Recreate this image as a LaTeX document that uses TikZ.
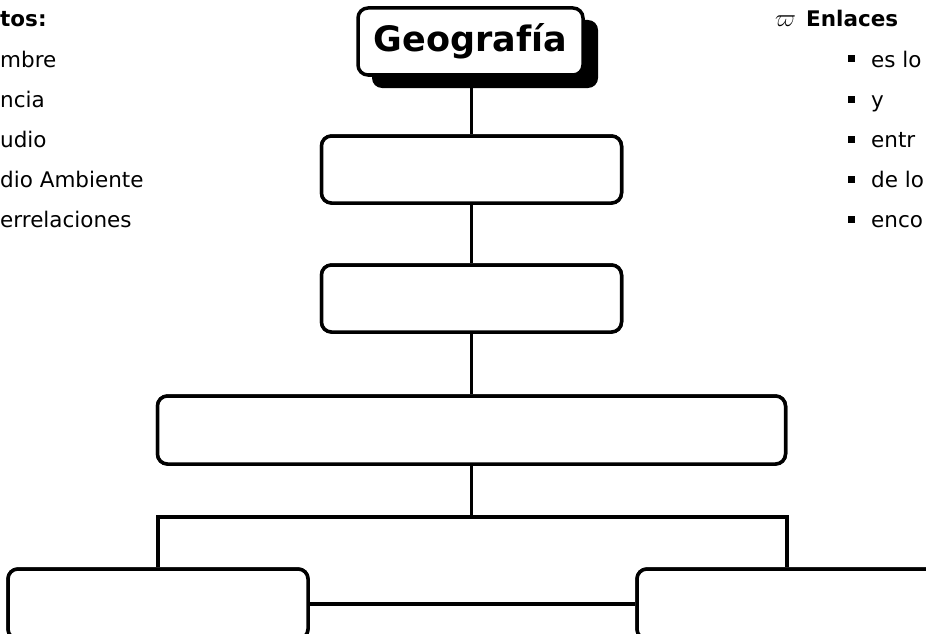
\documentclass[tikz,border=0pt]{standalone}
\usepackage{fontspec}
\setmainfont{DejaVu Sans}
\begin{document}
\begin{tikzpicture}[x=1pt,y=-1pt,
  box/.style={draw=black,line width=3.5pt,rounded corners=10pt,fill=white,inner sep=0pt},
  conn/.style={draw=black,line width=3.5pt},
  lbl/.style={anchor=base west,inner sep=0pt,font=\fontsize{21.5}{25}\selectfont},
  blt/.style={fill=black,inner sep=0pt,minimum size=7pt}]
\useasboundingbox (0,0) rectangle (926,634);
\clip (0,0) rectangle (926,634);
% connectors behind boxes
\coordinate (gtop) at (471.5,41);
\node[box,minimum width=300pt,minimum height=67pt] (b2) at (471.5,169.5) {};
\node[box,minimum width=300pt,minimum height=67pt] (b3) at (471.5,298.5) {};
\node[box,minimum width=628pt,minimum height=68pt] (b4) at (471.5,430) {};
\node[box,minimum width=300pt,minimum height=70pt] (bl) at (158,604) {};
\node[box,minimum width=300pt,minimum height=70pt] (br) at (787,604) {};
\coordinate (br1) at (471.5,517);
\draw[conn] (gtop) -- (b2.north);
\draw[conn] (b2.south) -- (b3.north);
\draw[conn] (b3.south) -- (b4.north);
\draw[conn] (b4.south) -- (br1);
\draw[conn] (bl.north) |- (br1) -| (br.north);
\draw[conn] (bl.east) -- (br.west);
% redraw boxes over connectors
\node[box,minimum width=300pt,minimum height=67pt] at (471.5,169.5) {};
\node[box,minimum width=300pt,minimum height=67pt] at (471.5,298.5) {};
\node[box,minimum width=628pt,minimum height=68pt] at (471.5,430) {};
\node[box,minimum width=300pt,minimum height=70pt] at (158,604) {};
\node[box,minimum width=300pt,minimum height=70pt] at (787,604) {};
% Geografia with shadow
\fill[black,rounded corners=10pt] (372,20) rectangle (598,88);
\node[box,minimum width=225pt,minimum height=67pt,font=\fontsize{35}{40}\selectfont\bfseries] (geo) at (470.5,41.5) {Geografía};
% left list
\node[lbl,font=\fontsize{21.5}{25}\selectfont\bfseries] (c0) at (0,27) {tos:};
\node[lbl] (c1) at (0,67) {mbre};
\node[lbl] (c2) at (0,107) {ncia};
\node[lbl] (c3) at (0,147) {udio};
\node[lbl] (c4) at (0,187) {dio Ambiente};
\node[lbl] (c5) at (0,227) {errelaciones};
% right list
\node[lbl,font=\fontsize{24}{28}\selectfont] (w) at (775,27) {$\varpi$};
\node[lbl,font=\fontsize{21.5}{25}\selectfont\bfseries] (e0) at (806,27) {Enlaces};
\node[blt] (s1) at (851,59) {};
\node[blt] (s2) at (851,99) {};
\node[blt] (s3) at (851,139) {};
\node[blt] (s4) at (851,179) {};
\node[blt] (s5) at (851,219) {};
\node[lbl] (e1) at (871,67) {es lo};
\node[lbl] (e2) at (871,107) {y};
\node[lbl] (e3) at (871,147) {entr};
\node[lbl] (e4) at (871,187) {de lo};
\node[lbl] (e5) at (871,227) {enco};
\end{tikzpicture}
\end{document}
